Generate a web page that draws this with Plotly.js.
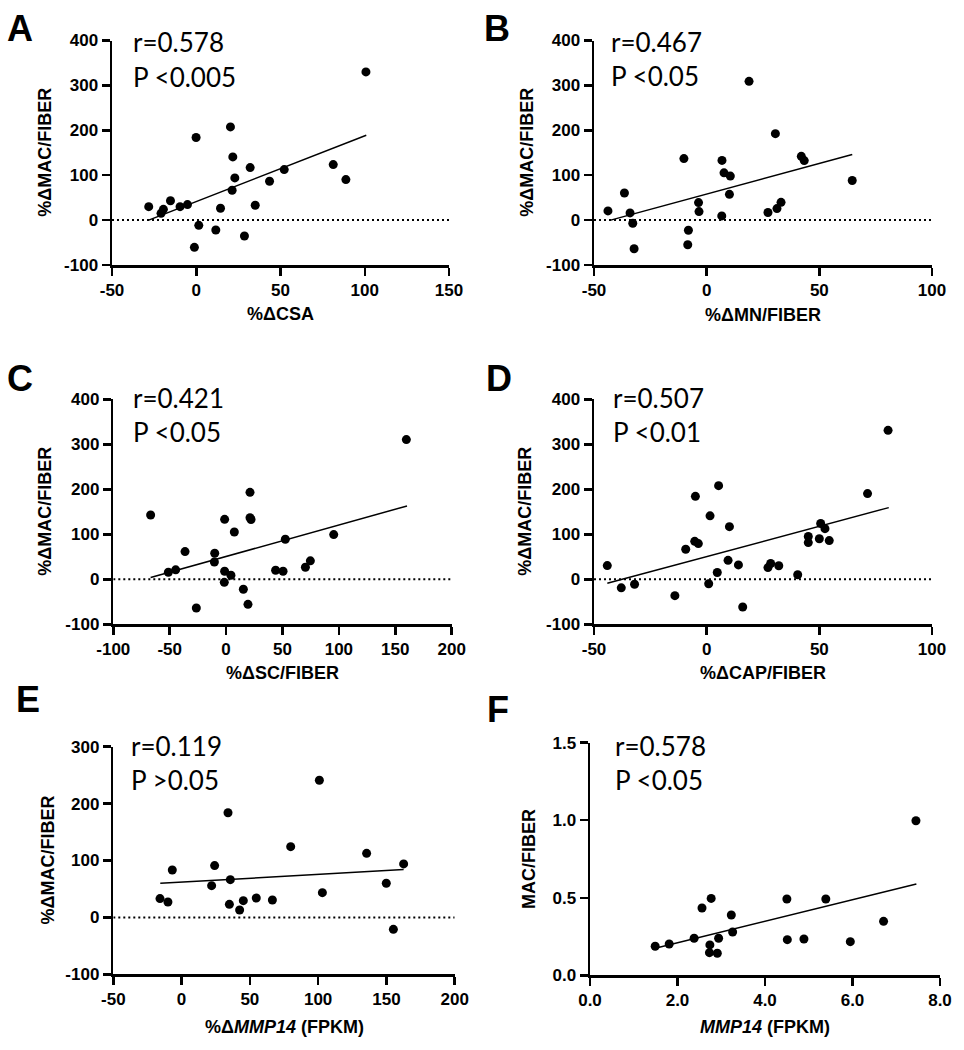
<!DOCTYPE html>
<html>
<head>
<meta charset="utf-8">
<script src="https://cdn.plot.ly/plotly-3.0.1.min.js"></script>
<style>
  html, body { margin: 0; padding: 0; background: #fff; }
  #chart { width: 964px; height: 1050px; }
</style>
</head>
<body>
<div id="chart"></div>
<script>
// values
const csaX = [-28.2,-20.9,-19.5,-15.3,-9.6,-5.2,-0.1,1.5,-1.1,11.6,14.4,20.3,21.7,22.9,21.3,28.6,32.0,35.0,43.5,52.2,81.3,88.8,100.7];
const csaY = [30,15,24,43,30,34.5,184,-11.6,-60.6,-22,26.3,207.6,140.7,94,66.4,-35.4,117,33,86.5,112.5,123.6,90.2,330];
const csaFitX = [-28.2, 100.9], csaFitY = [0, 189];

const mnX = [-43.8,-36.5,-34.0,-32.8,-32.2,-10.1,-8.1,-8.4,-3.6,-3.4,6.8,7.7,10.5,10.1,6.7,18.8,27.2,30.5,31.2,33.0,42.0,43.3,64.6];
const mnY = [20.4,60.3,16,-7,-63.8,137,-22.5,-55,39,19,133,105.3,98,57.3,9.3,309,17,192.5,25.6,39.6,142,132.6,88.3];
const mnFitX = [-42.6, 64.6], mnFitY = [0, 146];

const scX = [-66.9,-51.2,-44.7,-36.4,-26.4,-10.4,-10.1,-1.3,-1.3,-1.6,4.3,7.3,15.3,19.4,21.2,21.2,22.1,43.9,50.5,52.5,70.3,74.7,95.4,159.8];
const scY = [143,15.6,21,61.5,-63.7,38.5,58,133.3,18,-6.7,9,105.2,-22,-55.6,193.3,137,133,20,18,89,26.7,41,99.3,310.4];
const scFitX = [-66.9, 160.4], scFitY = [4, 163];

const capX = [-44.1,-37.9,-32.0,-14.1,-9.3,-5.0,-5.3,-3.7,1.5,0.9,4.7,5.3,9.5,10.1,14.1,16.0,27.2,28.4,32.0,40.4,45.1,45.1,50.0,50.6,52.5,54.4,71.4,80.5];
const capY = [30.4,-19,-11,-36.3,66.7,184.4,84.4,79.3,141,-10,15,208.1,42.2,117,32,-61.5,26,35,30,10,95,81.5,90,124,112.6,86,190.4,331];
const capFitX = [-44.1, 80.8], capFitY = [-8.9, 159.3];

const mmpChgX = [-15.8,-10.0,-6.8,22.0,24.2,34.0,35.7,35.0,42.5,45.2,54.7,66.5,79.9,100.9,103.1,135.5,149.9,155.1,162.6];
const mmpChgY = [33,27.1,83.3,55.8,91,184,66.3,23,13,29.4,34.1,30.6,124.3,241,43.5,112.6,60,-21,94];
const mmpChgFitX = [-15.6, 162.6], mmpChgFitY = [60, 84];

const mmpX = [1.49,1.81,2.38,2.56,2.77,2.74,2.73,2.91,2.94,3.23,3.26,4.50,4.51,4.89,5.39,5.95,6.71,7.45];
const mmpY = [0.187,0.202,0.239,0.434,0.496,0.196,0.146,0.142,0.239,0.389,0.279,0.492,0.230,0.234,0.492,0.217,0.348,0.997];
const mmpFitX = [1.49, 7.46], mmpFitY = [0.174, 0.589];

const letters = ['A','B','C','D','E','F'];
const rLabels = ['r=0.578','r=0.467','r=0.421','r=0.507','r=0.119','r=0.578'];
const pLabels = ['P &lt;0.005','P &lt;0.05','P &lt;0.05','P &lt;0.01','P &gt;0.05','P &lt;0.05'];
const xTitles = ['%ΔCSA','%ΔMN/FIBER','%ΔSC/FIBER','%ΔCAP/FIBER','%Δ<i>MMP14</i> (FPKM)','<i>MMP14</i> (FPKM)'];
const yTitles = ['%ΔMAC/FIBER','%ΔMAC/FIBER','%ΔMAC/FIBER','%ΔMAC/FIBER','%ΔMAC/FIBER','MAC/FIBER'];

const xTickVals = [[-50,0,50,100,150],[-50,0,50,100],[-100,-50,0,50,100,150,200],[-50,0,50,100],[-50,0,50,100,150,200],[0,2,4,6,8]];
const xTickText = [['-50','0','50','100','150'],['-50','0','50','100'],['-100','-50','0','50','100','150','200'],['-50','0','50','100'],['-50','0','50','100','150','200'],['0.0','2.0','4.0','6.0','8.0']];
const yTickVals = [[-100,0,100,200,300,400],[-100,0,100,200,300,400],[-100,0,100,200,300,400],[-100,0,100,200,300,400],[-100,0,100,200,300],[0,0.5,1,1.5]];
const yTickText = [['-100','0','100','200','300','400'],['-100','0','100','200','300','400'],['-100','0','100','200','300','400'],['-100','0','100','200','300','400'],['-100','0','100','200','300'],['0.0','0.5','1.0','1.5']];

const series = [
  [csaX, csaY, csaFitX, csaFitY],
  [mnX, mnY, mnFitX, mnFitY],
  [scX, scY, scFitX, scFitY],
  [capX, capY, capFitX, capFitY],
  [mmpChgX, mmpChgY, mmpChgFitX, mmpChgFitY],
  [mmpX, mmpY, mmpFitX, mmpFitY]
];
const hasZeroLine = [true, true, true, true, true, false];

// layout: pixel boxes of each plot area and text positions
const W = 964, H = 1050;
const boxes = [
  {l:112, r:449, t:40.5, b:265},
  {l:594, r:932, t:40.5, b:265},
  {l:113.3, r:451.7, t:399.3, b:624.3},
  {l:594, r:932, t:399.3, b:624.3},
  {l:113.3, r:454.7, t:746.7, b:974.3},
  {l:590, r:940, t:742.7, b:975.3}
];
const letterPos = [[20,28.5],[497,28.5],[20,379],[499,379],[28,699.5],[498,709]];
const statPos = [[131,50.7,86],[608.7,50.7,85.5],[131,407.3,441],[611.3,407.3,441],[129.3,755,789.3],[612.7,755,789.3]];
const yTitleX = [45, 527, 45, 525, 47, 529];
const xTitleY = [314, 315, 673, 673, 1027, 1027];

const px = x => x / W;
const py = y => 1 - y / H;

const tickFont = {family: 'Liberation Sans, Arial, sans-serif', size: 17, color: '#000', weight: 'bold'};
const titleFont = {family: 'Liberation Sans, Arial, sans-serif', size: 18, color: '#000', weight: 'bold'};
const statFont = {family: 'Lato, Open Sans, sans-serif', size: 26, color: '#000'};

const data = [];
const layout = {
  width: W, height: H,
  margin: {l: 0, r: 0, t: 0, b: 0},
  paper_bgcolor: '#fff', plot_bgcolor: '#fff',
  showlegend: false,
  annotations: []
};

series.forEach((s, i) => {
  const k = i === 0 ? '' : String(i + 1);
  const xa = 'x' + k, ya = 'y' + k;
  const xv = xTickVals[i], yv = yTickVals[i];
  const xr = [xv[0], xv[xv.length - 1]];
  const yr = [yv[0], yv[yv.length - 1]];

  if (hasZeroLine[i]) {
    data.push({x: xr, y: [0, 0], xaxis: xa, yaxis: ya, mode: 'lines',
      line: {color: '#000', width: 2, dash: '2px,3px'}, hoverinfo: 'skip'});
  }
  data.push({x: s[2], y: s[3], xaxis: xa, yaxis: ya, mode: 'lines',
    line: {color: '#000', width: 1.5}, hoverinfo: 'skip'});
  data.push({x: s[0], y: s[1], xaxis: xa, yaxis: ya, mode: 'markers',
    marker: {color: '#000', size: 9}, cliponaxis: false});

  const b = boxes[i];
  const axisCommon = {
    showgrid: false, zeroline: false, showline: true,
    linecolor: '#000', linewidth: 2.5,
    ticks: 'outside', ticklen: 8, tickwidth: 2.5, tickcolor: '#000',
    tickfont: tickFont, tickmode: 'array', fixedrange: true
  };
  layout['xaxis' + k] = Object.assign({}, axisCommon, {
    domain: [px(b.l), px(b.r)], anchor: ya, range: xr,
    tickvals: xv, ticktext: xTickText[i]
  });
  layout['yaxis' + k] = Object.assign({}, axisCommon, {
    domain: [py(b.b), py(b.t)], anchor: xa, range: yr,
    tickvals: yv, ticktext: yTickText[i]
  });

  const ann = layout.annotations;
  ann.push({xref: 'paper', yref: 'paper', x: px(letterPos[i][0]), y: py(letterPos[i][1]),
    text: letters[i], showarrow: false, xanchor: 'center', yanchor: 'middle',
    font: {family: 'Liberation Sans, Arial, sans-serif', size: 36, color: '#000', weight: 'bold'}});
  ann.push({xref: 'paper', yref: 'paper', x: px(statPos[i][0]), y: py(statPos[i][1] - 9),
    text: rLabels[i], showarrow: false, xanchor: 'left', yanchor: 'middle', font: statFont});
  ann.push({xref: 'paper', yref: 'paper', x: px(statPos[i][0]), y: py(statPos[i][2] - 9),
    text: pLabels[i], showarrow: false, xanchor: 'left', yanchor: 'middle', font: statFont});
  ann.push({xref: 'paper', yref: 'paper', x: px((b.l + b.r) / 2), y: py(xTitleY[i]),
    text: xTitles[i], showarrow: false, xanchor: 'center', yanchor: 'middle', font: titleFont});
  ann.push({xref: 'paper', yref: 'paper', x: px(yTitleX[i]), y: py((b.t + b.b) / 2),
    text: yTitles[i], showarrow: false, textangle: -90, xanchor: 'center', yanchor: 'middle', font: titleFont});
});

Plotly.newPlot('chart', data, layout, {displayModeBar: false, staticPlot: true});
</script>
</body>
</html>
